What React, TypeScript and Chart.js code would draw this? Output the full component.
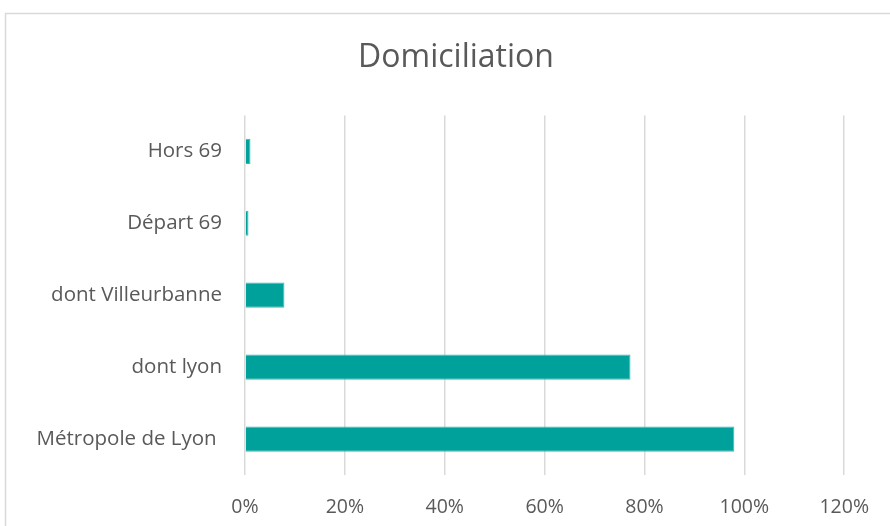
import React, { useEffect, useRef } from "react";
import { Chart, registerables } from "chart.js";

Chart.register(...registerables);

const categories = ["Hors 69", "Départ 69", "dont Villeurbanne", "dont lyon", "Métropole de Lyon "];
const values = [1.1, 0.7, 7.9, 77.2, 98.0];
const xTicks = [0, 20, 40, 60, 80, 100, 120];

const FONT = "'Open Sans', 'Liberation Sans', sans-serif";

const framePlugin = {
  id: "frame",
  afterLayout(chart: any) {
    if (chart.titleBlock) {
      chart.titleBlock.left = 66;
    }
  },
  beforeDraw(chart: any) {
    const ctx = chart.ctx;
    ctx.save();
    ctx.fillStyle = "#ffffff";
    ctx.fillRect(0, 0, chart.width, chart.height);
    ctx.strokeStyle = "#d9d9d9";
    ctx.lineWidth = 1.5;
    ctx.strokeRect(5.5, 13.5, 1000, 1000);
    ctx.restore();
  },
};

export default function App() {
  const ref = useRef<HTMLCanvasElement>(null);
  useEffect(() => {
    if (!ref.current) return;
    const chart = new Chart(ref.current, {
      type: "bar",
      data: {
        labels: categories,
        datasets: [
          {
            data: values,
            backgroundColor: "#00A19A",
            borderColor: "#3fb9b3",
            borderWidth: 1,
            barPercentage: 0.7,
            categoryPercentage: 0.5,
          },
        ],
      },
      options: {
        indexAxis: "y",
        responsive: false,
        animation: false,
        layout: { padding: { left: 0, right: 44, top: 0, bottom: 0 } },
        plugins: {
          legend: { display: false },
          tooltip: { enabled: false },
          title: {
            display: true,
            text: "Domiciliation",
            color: "#595959",
            font: { family: FONT, size: 32, weight: "normal", lineHeight: 1.2 },
            padding: { top: 39, bottom: 38 },
          },
        },
        scales: {
          x: {
            min: 0,
            max: 120,
            afterBuildTicks: (s: any) => {
              s.ticks = xTicks.map((v) => ({ value: v }));
            },
            afterFit: (s: any) => {
              s.height = 51;
            },
            ticks: {
              color: "#595959",
              font: { family: FONT, size: 19.5 },
              padding: 21,
              callback: (v: any) => v + "%",
              maxRotation: 0,
            },
            grid: { color: "#d9d9d9", lineWidth: 1.5, drawTicks: false },
            border: { display: false },
          },
          y: {
            afterFit: (s: any) => {
              s.width = 245;
            },
            ticks: {
              color: "#595959",
              font: { family: FONT, size: 20.5 },
              padding: 23,
            },
            grid: { display: false, drawTicks: false },
            border: { display: false },
          },
        },
      },
      plugins: [framePlugin],
    });
    return () => chart.destroy();
  }, []);
  return (
    <div style={{ position: "absolute", left: 0, top: 0, width: 890, height: 526 }}>
      <canvas ref={ref} width={890} height={526} />
    </div>
  );
}
